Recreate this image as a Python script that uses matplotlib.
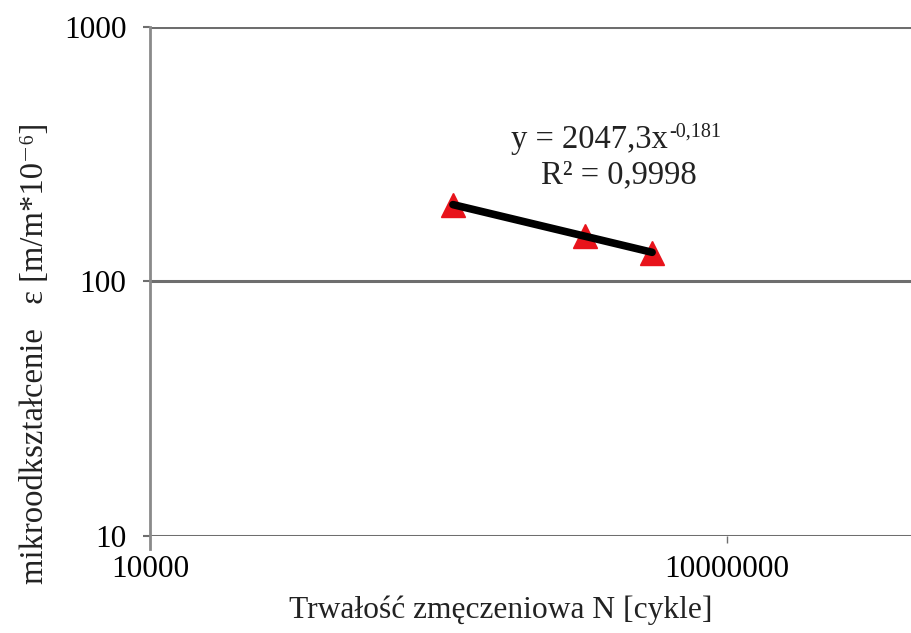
import matplotlib
matplotlib.use('Agg')
import matplotlib.pyplot as plt
import numpy as np

# fatigue data
cycles = [376000, 1830000, 4080000]
strain = [200, 151, 130]
fit_a = 2047.3
fit_b = -0.181
fit_main = 'y = 2047,3x'
fit_exp = '-0,181'
r2_label = 'R² = 0,9998'
x_ticks = [1e4, 1e7]
x_tick_labels = ['10000', '10000000']
y_ticks = [10, 100, 1000]
y_tick_labels = ['10', '100', '1000']

plt.rcParams['font.family'] = ['Liberation Serif', 'DejaVu Serif']

W, H = 911, 633
fig = plt.figure(figsize=(W / 100, H / 100), dpi=100)
# plot area runs past the right edge of the picture (cropped original)
left, right = 150, 1304
top, bottom = 27, 536
ax = fig.add_axes([left / W, (H - bottom) / H, (right - left) / W, (bottom - top) / H])
ax.set_xscale('log')
ax.set_yscale('log')
ax.set_xlim(1e4, 1e10)
ax.set_ylim(10, 1000)

grid_col = '#6e6e6e'
for v in y_ticks:
    ax.axhline(v, color=grid_col, lw=2.2, zorder=1)

# power trendline over the data range
xs = np.geomspace(cycles[0], cycles[-1], 50)
ax.plot(xs, fit_a * xs ** fit_b, color='black', lw=5.5, solid_capstyle='round', zorder=3)
ax.plot(cycles, strain, ls='none', marker='^', ms=17, color='#e8131b', zorder=2)

for s in ['top', 'right', 'bottom']:
    ax.spines[s].set_visible(False)
ax.spines['left'].set_color('#8a8a8a')
ax.spines['left'].set_linewidth(2)
ax.spines['left'].set_bounds(8.9, 1000)

ax.set_xticks(x_ticks)
ax.set_xticklabels(x_tick_labels)
ax.set_yticks(y_ticks)
ax.set_yticklabels(y_tick_labels)
ax.minorticks_off()
ax.tick_params(axis='y', length=5, width=1.5, color='#6e6e6e', pad=12, labelsize=22.5)
ax.tick_params(axis='x', length=5, width=1, color='#6e6e6e', pad=9, labelsize=22.5)
ax.get_xticklines()[0].set_visible(False)

txt = dict(color='#222222', transform=None)
# trendline equation (pixel positions, origin bottom-left)
fig.text(668 / W, 1 - 148 / H, fit_main, fontsize=23.5, ha='right', va='baseline', color='#222222')
fig.text(669 / W, 1 - 137 / H, fit_exp, fontsize=14.5, ha='left', va='baseline', color='#222222')
fig.text(619 / W, 1 - 183 / H, r2_label, fontsize=23.5, ha='center', va='baseline', color='#222222')

fig.text(501 / W, 1 - 610 / H, 'Trwałość zmęczeniowa N [cykle]', fontsize=22.7, ha='center', va='center',
         color='#222222')
fig.text(35 / W, 1 - 353 / H, 'mikroodkształcenie   ε [m/m*10⁻⁶]', fontsize=23.5, ha='center', va='center',
         rotation=90, color='#222222')

fig.savefig('out.png', dpi=100)
